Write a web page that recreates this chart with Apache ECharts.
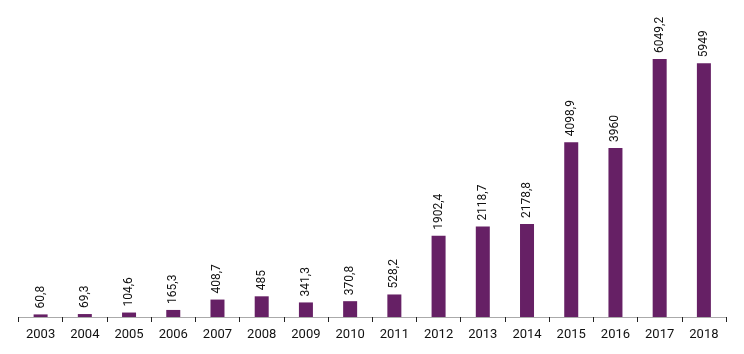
<!DOCTYPE html>
<html><head><meta charset="utf-8">
<script src="https://cdn.jsdelivr.net/npm/echarts@6/dist/echarts.min.js"></script>
<style>html,body{margin:0;padding:0;background:#fff}#c{width:744px;height:354px}</style>
</head><body><div id="c"></div>
<script>
const categories = ['2003','2004','2005','2006','2007','2008','2009','2010','2011','2012','2013','2014','2015','2016','2017','2018'];
const values = [60.8, 69.3, 104.6, 165.3, 408.7, 485, 341.3, 370.8, 528.2, 1902.4, 2118.7, 2178.8, 4098.9, 3960, 6049.2, 5949];

const chart = echarts.init(document.getElementById('c'));
chart.setOption({
  animation: false,
  grid: {left: 18.5, right: 18, top: 18.4, bottom: 37, containLabel: false},
  xAxis: {
    type: 'category', data: categories,
    axisLine: {lineStyle: {color: '#aaaaaa', width: 1}},
    axisTick: {show: true, length: 5, lineStyle: {color: '#222'}},
    axisLabel: {color: '#111', fontSize: 13, fontFamily: 'Roboto', margin: 11}
  },
  yAxis: {type: 'value', min: 0, max: 7000, show: false, splitLine: {show: false}},
  series: [{
    type: 'bar', data: values, barWidth: 14,
    itemStyle: {color: '#662065'},
    label: {
      show: true, position: 'top', rotate: 90, distance: 6,
      align: 'left', verticalAlign: 'middle',
      fontSize: 12, fontFamily: 'Roboto', color: '#111',
      formatter: p => String(p.value).replace('.', ',')
    }
  }]
});
</script></body></html>
